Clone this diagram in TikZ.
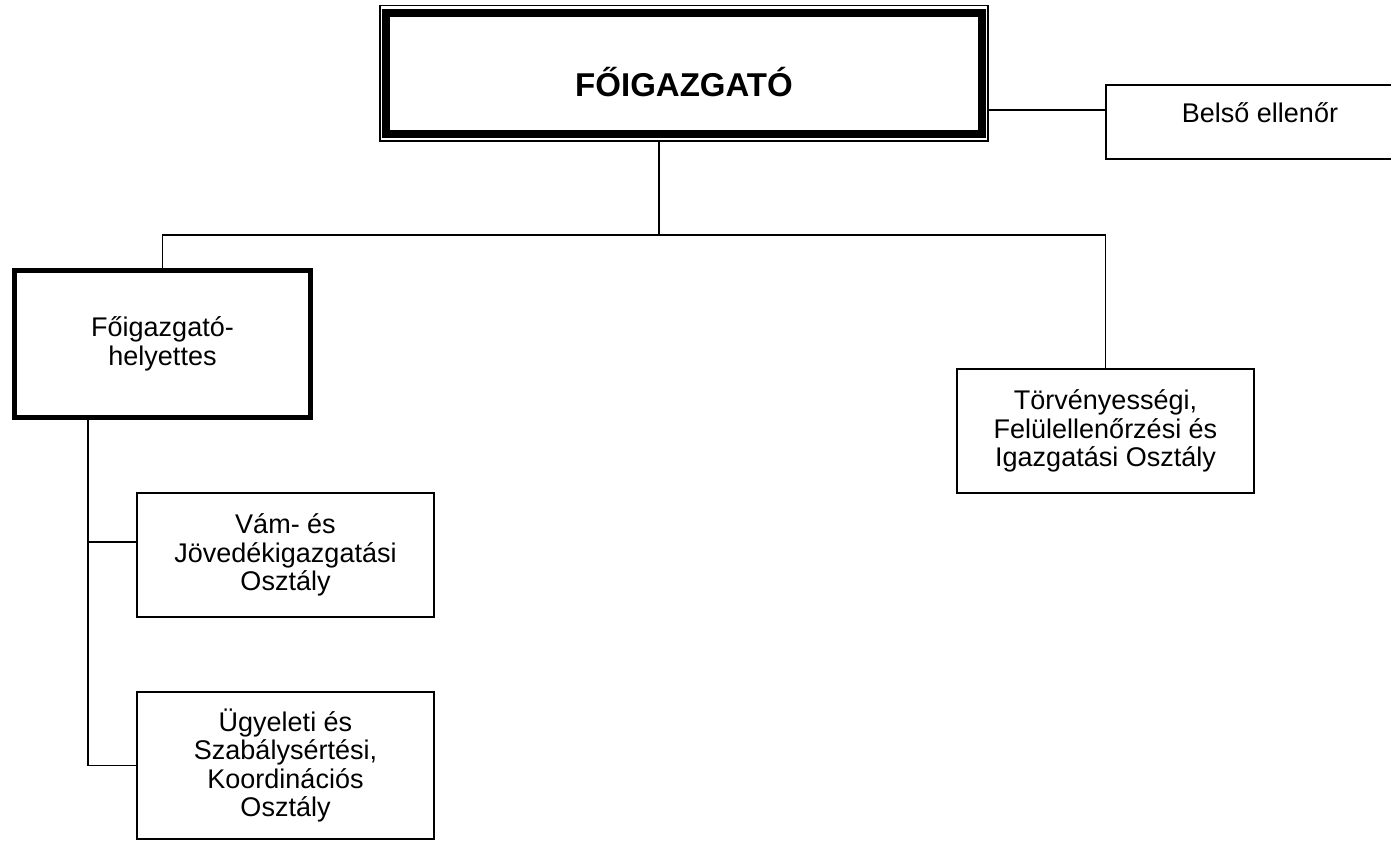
\documentclass[tikz,border=0pt]{standalone}
\usepackage{fontspec}
\setmainfont{Liberation Sans}
\usetikzlibrary{positioning}

\begin{document}
\begin{tikzpicture}[
                x=1pt, y=-1pt,
                box/.style={rectangle, draw, line width=1.5pt, align=center, inner sep=0pt,
                            font=\fontsize{27}{28.5}\selectfont},
                heavybox/.style={box, line width=5pt},
                link/.style={line width=1.5pt}
            ]
                \useasboundingbox (0,0) rectangle (1391,841);

                \node[box, minimum width=608pt, minimum height=135.5pt, text height=46pt, text depth=0pt,
                      font=\bfseries\fontsize{33}{38}\selectfont] (chief) at (684,73.25) {FŐIGAZGATÓ};
                \draw[line width=8pt] ([shift={(7,8)}]chief.north west) rectangle ([shift={(-7,-8)}]chief.south east);
                \node[box, minimum width=308pt, minimum height=74pt, text height=10pt, text depth=10pt] (belso) at (1260,122) {Belső ellenőr};
                \node[heavybox, minimum width=296pt, minimum height=147pt] (deputy) at (162.5,344) {Főigazgató-\\helyettes};
                \node[box, minimum width=297pt, minimum height=124pt] (legal) at (1105.5,431) {Törvényességi,\\Felülellenőrzési és\\Igazgatási Osztály};
                \node[box, minimum width=297pt, minimum height=124pt] (vam) at (285.5,555) {Vám- és\\Jövedékigazgatási\\Osztály};
                \node[box, minimum width=297pt, minimum height=147pt] (ugy) at (285.5,765.5) {Ügyeleti és\\Szabálysértési,\\Koordinációs\\Osztály};

                \coordinate (bus) at (659,235);
                \coordinate (spine) at (88,420);

                \draw[link] ([yshift=12pt]belso.west) -- ([yshift=12pt]belso.west -| chief.east);
                \draw[link] ([xshift=-25pt]chief.south) -- (bus);
                \draw[link] ([yshift=-2.5pt]deputy.north) |- (bus) -| (legal.north);
                \draw[link] ([yshift=2.5pt]deputy.south -| spine) |- (ugy.west);
                \draw[link] ([yshift=13pt]vam.west) -- ([yshift=13pt]vam.west -| spine);
            \end{tikzpicture}
\end{document}
